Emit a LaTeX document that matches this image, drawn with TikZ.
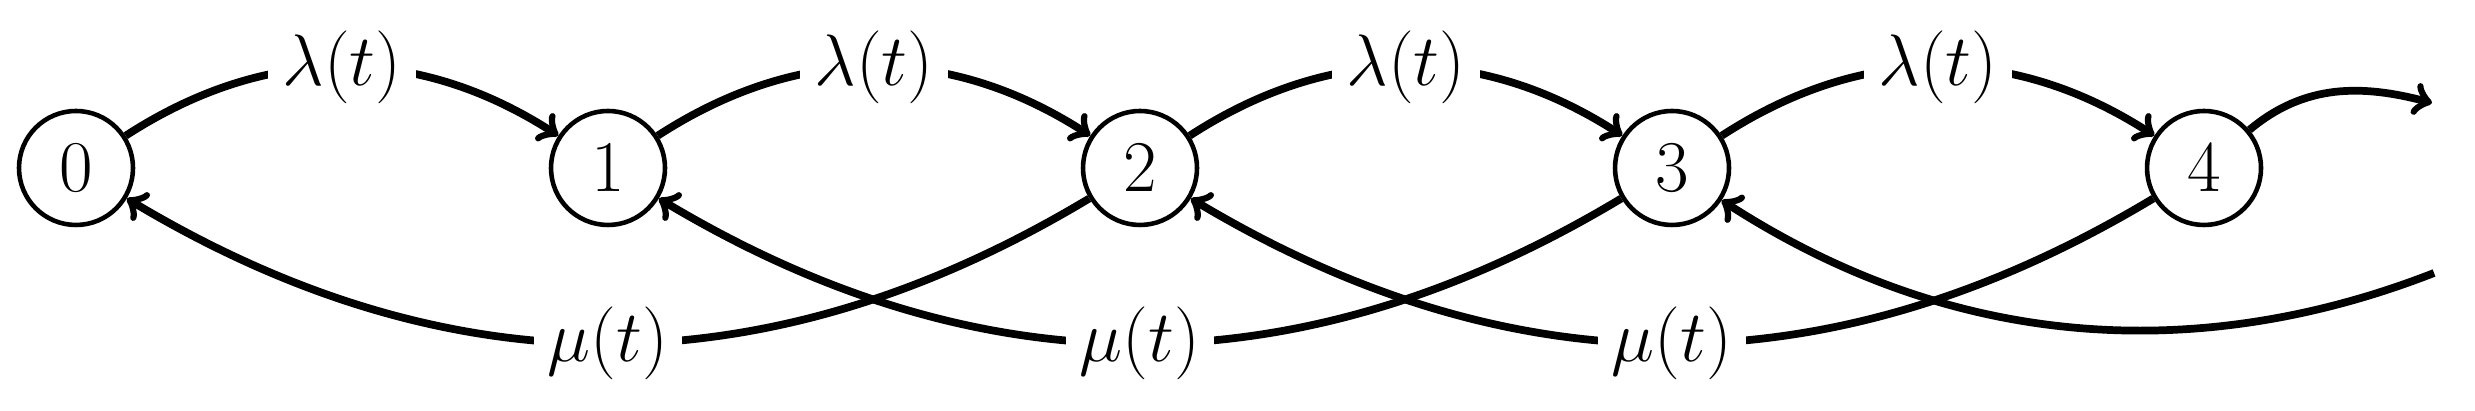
\documentclass[tikz,border=0pt]{standalone}
\begin{document}
\begin{tikzpicture}[
  state/.style={circle,draw,line width=1.3pt,minimum size=1.14cm,inner sep=0pt,font=\fontsize{21}{24}\selectfont},
  edge/.style={->,line width=2.2pt},
  lab/.style={fill=white,inner sep=4pt,font=\fontsize{21}{24}\selectfont}
]
\useasboundingbox (0,0) rectangle (24.75,4.11);
\node[state] (n0) at (0.76,2.43) {$0$};
\node[state] (n1) at (6.08,2.43) {$1$};
\node[state] (n2) at (11.40,2.43) {$2$};
\node[state] (n3) at (16.72,2.43) {$3$};
\node[state] (n4) at (22.04,2.43) {$4$};
\coordinate (outR) at (24.32,3.08);
\coordinate (inR) at (24.34,1.38);
\foreach \a/\b in {n0/n1,n1/n2,n2/n3,n3/n4}
  \draw[edge] (\a) to[bend left=33] node[lab] {$\lambda(t)$} (\b);
\foreach \a/\b in {n2/n0,n3/n1,n4/n2}
  \draw[edge] (\a) to[bend left=31] node[lab] {$\mu(t)$} (\b);
\draw[edge] (n4) to[out=40,in=165] (outR);
\draw[edge] (inR) .. controls (22.6,0.7) and (20.0,0.3) .. (n3);
\end{tikzpicture}
\end{document}
